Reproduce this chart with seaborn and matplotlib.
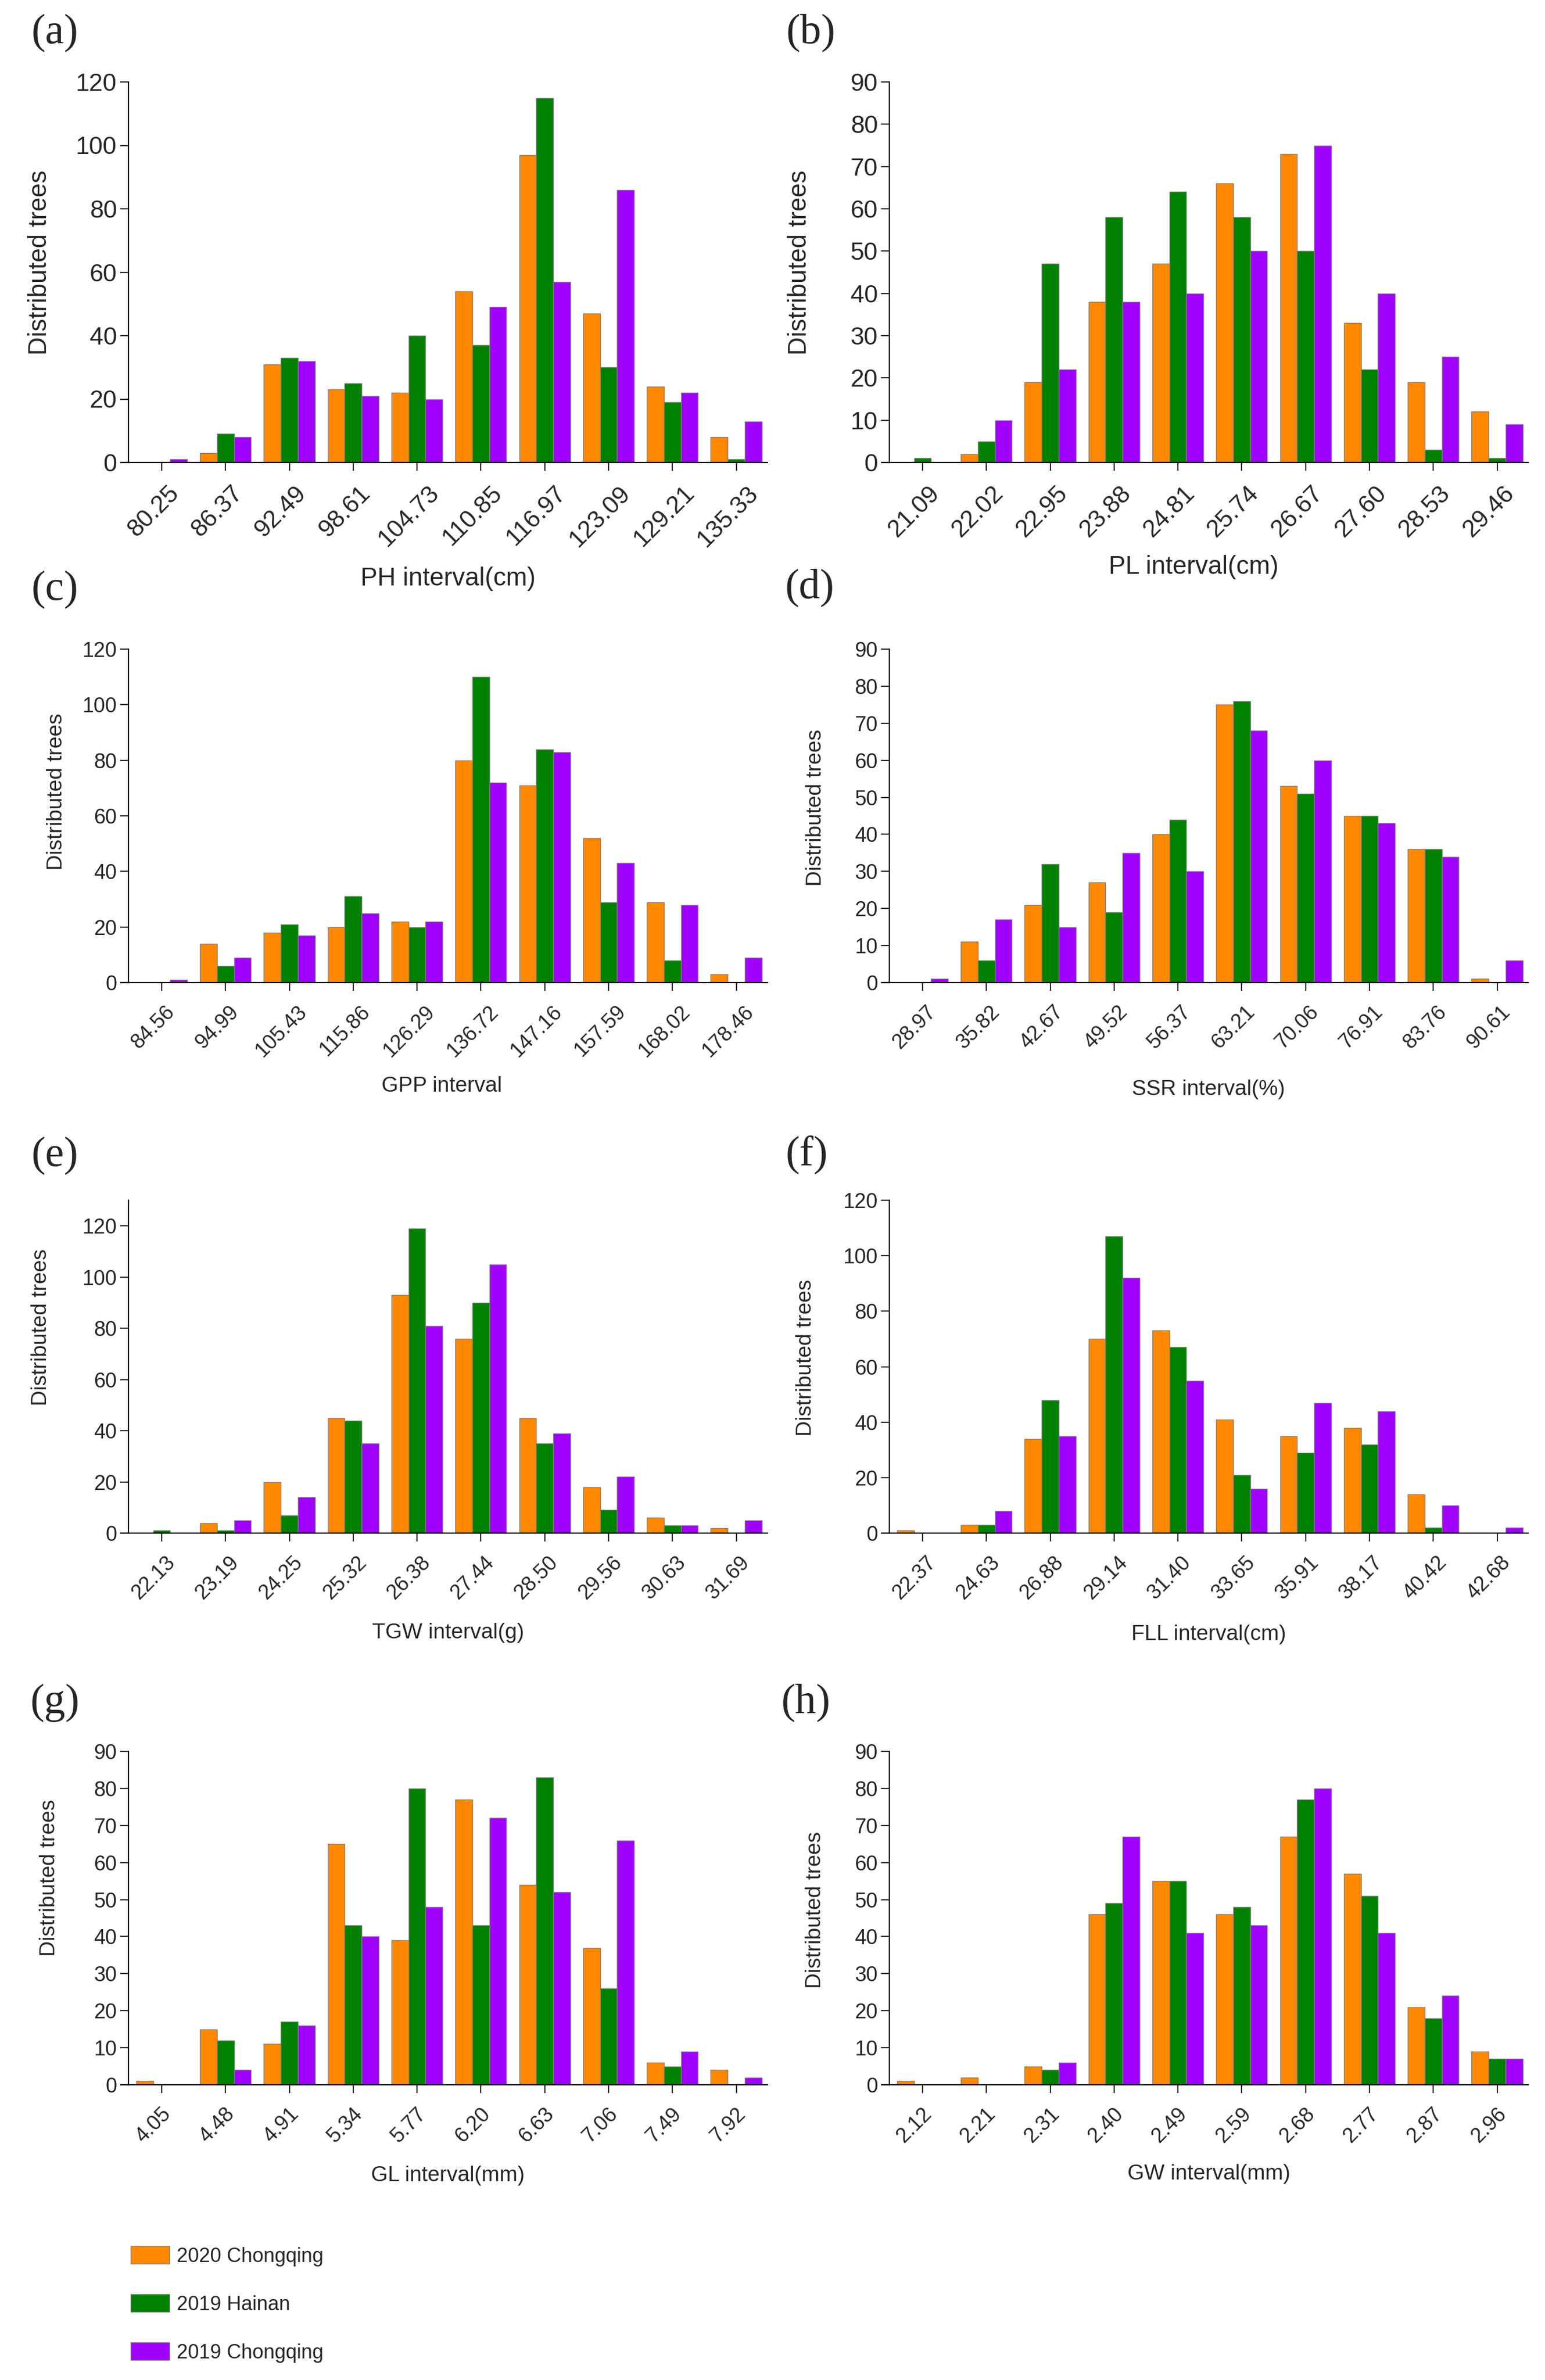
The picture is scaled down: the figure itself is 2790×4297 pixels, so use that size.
import matplotlib
matplotlib.use('Agg')
import matplotlib.pyplot as plt
import matplotlib.transforms as mtransforms
from matplotlib.patches import Patch
import seaborn as sns
import pandas as pd

sns.set_style('ticks')
plt.rcParams['font.family'] = ['Liberation Sans', 'DejaVu Sans']

series_names = ['2020 Chongqing', '2019 Hainan', '2019 Chongqing']
series_colors = ['#FF8800', '#008000', '#9F00FF']

# (a) plant height
ph_bins = ['80.25', '86.37', '92.49', '98.61', '104.73', '110.85', '116.97', '123.09', '129.21', '135.33']
ph_cq2020 = [0, 3, 31, 23, 22, 54, 97, 47, 24, 8]
ph_hn2019 = [0, 9, 33, 25, 40, 37, 115, 30, 19, 1]
ph_cq2019 = [1, 8, 32, 21, 20, 49, 57, 86, 22, 13]

# (b) panicle length
pl_bins = ['21.09', '22.02', '22.95', '23.88', '24.81', '25.74', '26.67', '27.60', '28.53', '29.46']
pl_cq2020 = [0, 2, 19, 38, 47, 66, 73, 33, 19, 12]
pl_hn2019 = [1, 5, 47, 58, 64, 58, 50, 22, 3, 1]
pl_cq2019 = [0, 10, 22, 38, 40, 50, 75, 40, 25, 9]

# (c) grains per panicle
gpp_bins = ['84.56', '94.99', '105.43', '115.86', '126.29', '136.72', '147.16', '157.59', '168.02', '178.46']
gpp_cq2020 = [0, 14, 18, 20, 22, 80, 71, 52, 29, 3]
gpp_hn2019 = [0, 6, 21, 31, 20, 110, 84, 29, 8, 0]
gpp_cq2019 = [1, 9, 17, 25, 22, 72, 83, 43, 28, 9]

# (d) seed setting rate
ssr_bins = ['28.97', '35.82', '42.67', '49.52', '56.37', '63.21', '70.06', '76.91', '83.76', '90.61']
ssr_cq2020 = [0, 11, 21, 27, 40, 75, 53, 45, 36, 1]
ssr_hn2019 = [0, 6, 32, 19, 44, 76, 51, 45, 36, 0]
ssr_cq2019 = [1, 17, 15, 35, 30, 68, 60, 43, 34, 6]

# (e) thousand grain weight
tgw_bins = ['22.13', '23.19', '24.25', '25.32', '26.38', '27.44', '28.50', '29.56', '30.63', '31.69']
tgw_cq2020 = [0, 4, 20, 45, 93, 76, 45, 18, 6, 2]
tgw_hn2019 = [1, 1, 7, 44, 119, 90, 35, 9, 3, 0]
tgw_cq2019 = [0, 5, 14, 35, 81, 105, 39, 22, 3, 5]

# (f) flag leaf length
fll_bins = ['22.37', '24.63', '26.88', '29.14', '31.40', '33.65', '35.91', '38.17', '40.42', '42.68']
fll_cq2020 = [1, 3, 34, 70, 73, 41, 35, 38, 14, 0]
fll_hn2019 = [0, 3, 48, 107, 67, 21, 29, 32, 2, 0]
fll_cq2019 = [0, 8, 35, 92, 55, 16, 47, 44, 10, 2]

# (g) grain length
gl_bins = ['4.05', '4.48', '4.91', '5.34', '5.77', '6.20', '6.63', '7.06', '7.49', '7.92']
gl_cq2020 = [1, 15, 11, 65, 39, 77, 54, 37, 6, 4]
gl_hn2019 = [0, 12, 17, 43, 80, 43, 83, 26, 5, 0]
gl_cq2019 = [0, 4, 16, 40, 48, 72, 52, 66, 9, 2]

# (h) grain width
gw_bins = ['2.12', '2.21', '2.31', '2.40', '2.49', '2.59', '2.68', '2.77', '2.87', '2.96']
gw_cq2020 = [1, 2, 5, 46, 55, 46, 67, 57, 21, 9]
gw_hn2019 = [0, 0, 4, 49, 55, 48, 77, 51, 18, 7]
gw_cq2019 = [0, 0, 6, 67, 41, 43, 80, 41, 24, 7]

W, H = 2790, 4297
fig = plt.figure(figsize=(W / 100, H / 100), dpi=100)

LEFT_X = [232, 1606]
AX_W = 1154

# letter, bins, series, xlabel, ylim, ystep, col, top px, bottom px, fontsize,
# xlabel coords, ylabel coords, letter position
panels = [
    ('(a)', ph_bins, [ph_cq2020, ph_hn2019, ph_cq2019], 'PH interval(cm)', 120, 20, 0, 148, 835, 32,
     (0.50, -0.306), (-0.139, 0.525), (99, 59)),
    ('(b)', pl_bins, [pl_cq2020, pl_hn2019, pl_cq2019], 'PL interval(cm)', 90, 10, 1, 148, 835, 32,
     (0.476, -0.275), (-0.140, 0.525), (1464, 59)),
    ('(c)', gpp_bins, [gpp_cq2020, gpp_hn2019, gpp_cq2019], 'GPP interval', 120, 20, 0, 1172, 1774, 27,
     (0.49, -0.311), (-0.113, 0.573), (99, 1064)),
    ('(d)', ssr_bins, [ssr_cq2020, ssr_hn2019, ssr_cq2019], 'SSR interval(%)', 90, 10, 1, 1172, 1774, 27,
     (0.499, -0.321), (-0.115, 0.525), (1462, 1061)),
    ('(e)', tgw_bins, [tgw_cq2020, tgw_hn2019, tgw_cq2019], 'TGW interval(g)', 130, 20, 0, 2167, 2768, 27,
     (0.50, -0.300), (-0.137, 0.619), (99, 2086)),
    ('(f)', fll_bins, [fll_cq2020, fll_hn2019, fll_cq2019], 'FLL interval(cm)', 120, 20, 1, 2167, 2768, 27,
     (0.50, -0.304), (-0.131, 0.527), (1457, 2086)),
    ('(g)', gl_bins, [gl_cq2020, gl_hn2019, gl_cq2019], 'GL interval(mm)', 90, 10, 0, 3162, 3764, 27,
     (0.50, -0.272), (-0.124, 0.621), (99, 3074)),
    ('(h)', gw_bins, [gw_cq2020, gw_hn2019, gw_cq2019], 'GW interval(mm)', 90, 10, 1, 3162, 3764, 27,
     (0.50, -0.267), (-0.116, 0.525), (1455, 3074)),
]

# rotated tick labels sit a bit left of their ticks in the original
shift = mtransforms.ScaledTranslation(-0.15, 0, fig.dpi_scale_trans)

for letter, bins, series, xlab, ytop, ystep, col, top, bot, fs, xl, yl, lp in panels:
    ax = fig.add_axes([LEFT_X[col] / W, 1 - bot / H, AX_W / W, (bot - top) / H])

    df = pd.DataFrame({
        'interval': bins * 3,
        'trees': series[0] + series[1] + series[2],
        'site': [n for n in series_names for _ in bins],
    })
    sns.barplot(data=df, x='interval', y='trees', hue='site', order=bins,
                hue_order=series_names, palette=series_colors, width=0.8,
                edgecolor='#808080', linewidth=1.0, errorbar=None, legend=False,
                saturation=1, ax=ax)

    ax.set_xlim(-0.52, 9.49)
    ax.set_ylim(0, ytop)
    yt = list(range(0, (ytop // ystep) * ystep + 1, ystep))
    if yt[-1] > ytop:
        yt = yt[:-1]
    ax.set_yticks(yt)
    sns.despine(ax=ax)
    for s in ['left', 'bottom']:
        ax.spines[s].set_linewidth(1.6)
        ax.spines[s].set_color('black')
    ax.spines['bottom'].set_bounds(-0.64, 9.49)
    ax.tick_params(axis='x', length=11, width=1.6, pad=14, labelsize=fs, labelrotation=45)
    ax.tick_params(axis='y', length=11, width=1.6, pad=4, labelsize=fs)
    for lab in ax.get_xticklabels():
        lab.set_transform(lab.get_transform() + shift)

    ax.set_xlabel(xlab, fontsize=fs + 1, va='center', ha='center')
    ax.xaxis.set_label_coords(*xl)
    ax.set_ylabel('Distributed trees', fontsize=fs + 1, va='center', ha='center')
    ax.yaxis.set_label_coords(*yl)

    fig.text(lp[0] / W, 1 - lp[1] / H, letter, fontsize=55, family=['Liberation Serif', 'DejaVu Serif'],
             ha='center', va='center')

handles = [Patch(facecolor=c, edgecolor='#808080', linewidth=1.0) for c in series_colors]
fig.legend(handles, series_names, loc='upper left', bbox_to_anchor=(236 / W, 1 - 4055 / H),
           frameon=False, fontsize=26, handlelength=1.95, handleheight=1.0,
           handletextpad=0.35, labelspacing=1.4, borderpad=0, borderaxespad=0)

fig.savefig('out.png', dpi=100)
